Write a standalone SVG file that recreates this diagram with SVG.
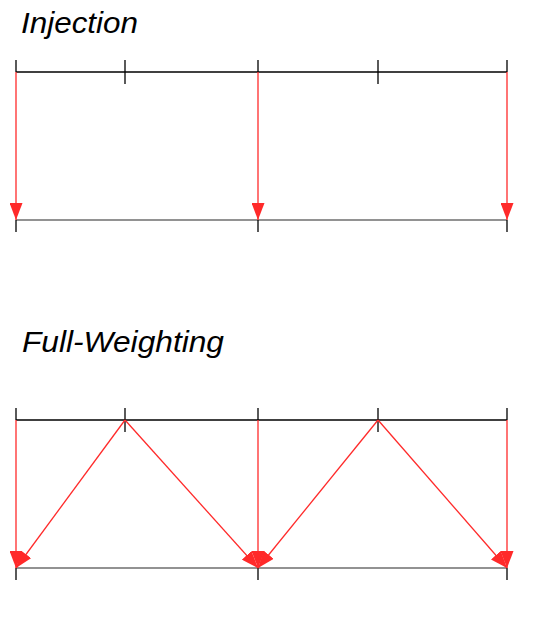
<svg xmlns="http://www.w3.org/2000/svg" width="536" height="642" viewBox="0 0 536 642">
<defs>
<marker id="ah" viewBox="0 0 17 13" refX="17" refY="6.5" markerWidth="17" markerHeight="13" markerUnits="userSpaceOnUse" orient="auto">
<path d="M0,0 L17,6.5 L0,13 Z" fill="#ff2a2a"/>
</marker>
</defs>
<style>
.t{font-family:"Liberation Sans",Arial,sans-serif;font-style:italic;font-size:29px;fill:#000}
.grid{stroke:#000;stroke-width:1.3;fill:none}
.grid2{stroke:#6e6e6e;stroke-width:1.6;fill:none}
.tick{stroke:#000;stroke-width:1.3}
.arr{stroke:#ff2a2a;stroke-width:1.3;fill:none;marker-end:url(#ah)}
</style>
<rect width="536" height="642" fill="#fff"/>
<g id="title-injection"><text class="t" x="21" y="33" textLength="117" lengthAdjust="spacingAndGlyphs">Injection</text></g>
<g id="title-fw"><text class="t" x="22" y="352" textLength="202" lengthAdjust="spacingAndGlyphs">Full-Weighting</text></g>

<g id="inj-fine">
<line class="grid" x1="16" y1="72" x2="507" y2="72"/>
<line class="tick" x1="16" y1="60" x2="16" y2="72"/>
<line class="tick" x1="125" y1="60" x2="125" y2="84"/>
<line class="tick" x1="258" y1="60" x2="258" y2="72"/>
<line class="tick" x1="378" y1="60" x2="378" y2="84"/>
<line class="tick" x1="507" y1="60" x2="507" y2="72"/>
</g>
<g id="inj-coarse">
<line class="grid2" x1="16" y1="220" x2="507" y2="220"/>
<line class="tick" x1="16" y1="220" x2="16" y2="232"/>
<line class="tick" x1="258" y1="220" x2="258" y2="232"/>
<line class="tick" x1="507" y1="220" x2="507" y2="232"/>
</g>

<g id="fw-fine">
<line class="grid" x1="16" y1="420" x2="507" y2="420"/>
<line class="tick" x1="16" y1="408" x2="16" y2="420"/>
<line class="tick" x1="125" y1="408" x2="125" y2="432"/>
<line class="tick" x1="258" y1="408" x2="258" y2="420"/>
<line class="tick" x1="378" y1="408" x2="378" y2="432"/>
<line class="tick" x1="507" y1="408" x2="507" y2="420"/>
</g>
<g id="fw-coarse">
<line class="grid2" x1="16" y1="568" x2="507" y2="568"/>
<line class="tick" x1="16" y1="568" x2="16" y2="580"/>
<line class="tick" x1="258" y1="568" x2="258" y2="580"/>
<line class="tick" x1="507" y1="568" x2="507" y2="580"/>
</g>

<g id="connectors">
<line class="arr" x1="16" y1="72" x2="16" y2="220"/>
<line class="arr" x1="258" y1="72" x2="258" y2="220"/>
<line class="arr" x1="507" y1="72" x2="507" y2="220"/>
<line class="arr" x1="16" y1="420" x2="16" y2="568"/>
<line class="arr" x1="258" y1="420" x2="258" y2="568"/>
<line class="arr" x1="507" y1="420" x2="507" y2="568"/>
<line class="arr" x1="125" y1="420" x2="16" y2="568"/>
<line class="arr" x1="125" y1="420" x2="258" y2="568"/>
<line class="arr" x1="378" y1="420" x2="258" y2="568"/>
<line class="arr" x1="378" y1="420" x2="507" y2="568"/>
</g>
</svg>
